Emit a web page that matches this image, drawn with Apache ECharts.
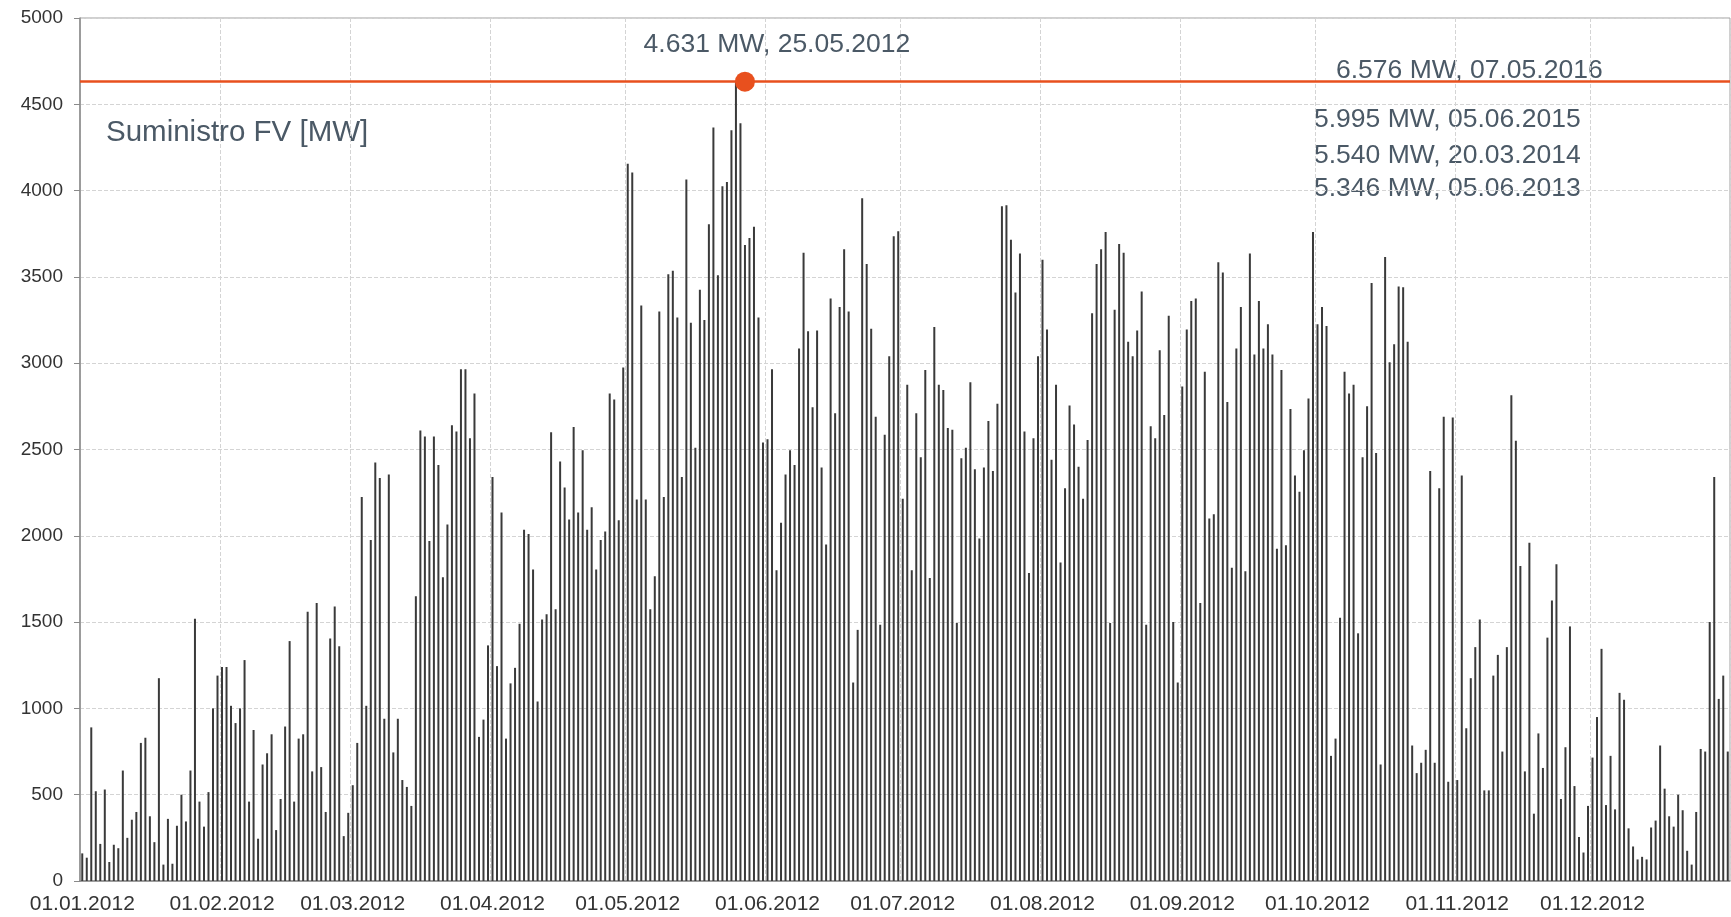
<!DOCTYPE html>
<html><head><meta charset="utf-8">
<script src="https://cdn.jsdelivr.net/npm/echarts@6/dist/echarts.min.js"></script>
<style>html,body{margin:0;padding:0;background:#fff}#c{width:1731px;height:917px}</style>
</head><body><div id="c"></div>
<script>
const monthLabels = ['01.01.2012','01.02.2012','01.03.2012','01.04.2012','01.05.2012','01.06.2012','01.07.2012','01.08.2012','01.09.2012','01.10.2012','01.11.2012','01.12.2012'];
const monthDays = [31,29,31,30,31,30,31,31,30,31,30,31];
const yTicks = [0,500,1000,1500,2000,2500,3000,3500,4000,4500,5000];

const jan = [160,135,890,520,215,530,110,210,190,640,250,355,400,800,830,375,225,1175,95,360,100,320,500,345,640,1520,460,315,515,1000,1190];
const feb = [1240,1240,1015,915,1000,1280,460,875,245,675,740,850,295,475,895,1390,460,825,850,1560,635,1610,660,400,1405,1590,1360,260,395];
const mar = [555,800,2225,1015,1975,2425,2335,940,2355,745,940,585,545,435,1650,2610,2575,1970,2575,2410,1760,2065,2640,2605,2965,2965,2565,2825,835,935,1365];
const apr = [2340,1245,2135,825,1145,1235,1490,2035,2010,1805,1040,1515,1545,2600,1575,2430,2280,2095,2630,2135,2495,2035,2165,1805,1975,2025,2825,2790,2090,2975];
const may = [4155,4105,2210,3335,2210,1575,1765,3300,2225,3515,3535,3265,2340,4065,3235,2510,3425,3250,3805,4365,3510,4025,4050,4350,4631,4390,3685,3725,3790,3265,2540];
const jun = [2560,2965,1800,2075,2355,2495,2410,3085,3640,3185,2745,3190,2395,1950,3375,2710,3325,3660,3300,1150,1455,3955,3575,3200,2690,1485,2585,3040,3735,3765];
const jul = [2215,2875,1800,2710,2455,2960,1755,3210,2875,2845,2625,2615,1495,2450,2510,2890,2385,1985,2395,2665,2375,2765,3910,3915,3715,3410,3635,2605,1785,2565,3040];
const aug = [3600,3195,2440,2875,1845,2275,2755,2645,2400,2215,2555,3290,3575,3660,3760,1495,3310,3690,3640,3125,3040,3190,3415,1485,2635,2565,3075,2700,3275,1500,1150];
const sep = [2865,3195,3360,3375,1610,2950,2100,2125,3585,3525,2775,1815,3085,3325,1795,3635,3050,3360,3085,3225,3050,1925,2960,1945,2735,2350,2255,2495,2795,3760];
const oct = [3225,3325,3215,725,825,1525,2950,2825,2875,1435,2455,2750,3465,2480,675,3615,3005,3110,3445,3440,3125,785,625,685,760,2375,685,2275,2690,575,2685];
const nov = [585,2350,885,1175,1355,1515,525,525,1190,1310,750,1355,2815,2550,1825,635,1960,390,855,655,1410,1625,1835,475,775,1475,550,255,165,435];
const dec = [715,950,1345,440,725,415,1090,1050,305,200,125,140,125,310,350,785,535,375,315,500,410,175,95,400,765,750,1500,2340,1055,1190,750];

const peakValue = 4631;
const peakDate = '25.05.2012';
const seriesName = 'Suministro FV [MW]';
const recordValues = [6576, 5995, 5540, 5346];
const recordDates = ['07.05.2016', '05.06.2015', '20.03.2014', '05.06.2013'];

const months = [jan,feb,mar,apr,may,jun,jul,aug,sep,oct,nov,dec];
const categories = [];
const values = [];
months.forEach((arr, m) => {
  const mm = String(m + 1).padStart(2, '0');
  for (let d = 1; d <= monthDays[m]; d++) {
    categories.push(String(d).padStart(2, '0') + '.' + mm + '.2012');
    values.push(arr[d - 1]);
  }
});
const fmtMW = v => (v / 1000).toFixed(3) + ' MW';
const isMonthStart = (i, v) => monthLabels.indexOf(v) >= 0;

const textColor = '#4b5966';
const orange = '#e8501e';
const chart = echarts.init(document.getElementById('c'), null, {renderer: 'canvas'});
const recordY = [73, 122, 158, 191];
const recordX = [1336, 1314, 1314, 1314];

chart.setOption({
  animation: false,
  backgroundColor: '#ffffff',
  grid: {left: 80, right: 1, top: 18, bottom: 36, show: true, borderColor: '#a0a0a0', borderWidth: 1},
  xAxis: {
    type: 'category', data: categories, boundaryGap: true,
    axisLine: {lineStyle: {color: '#8a8a8a', width: 1.5}},
    axisTick: {interval: isMonthStart, length: 6, lineStyle: {color: '#8a8a8a'}},
    axisLabel: {interval: isMonthStart, color: '#333', fontFamily: 'Liberation Sans', fontSize: 21, margin: 13},
    splitLine: {show: true, interval: isMonthStart, lineStyle: {type: 'dashed', color: '#d4d4d4', width: 1}}
  },
  yAxis: {
    type: 'value', min: 0, max: 5000, interval: 500,
    axisLine: {show: true, lineStyle: {color: '#8a8a8a', width: 1.5}},
    axisTick: {show: true, length: 6, lineStyle: {color: '#8a8a8a'}},
    axisLabel: {color: '#333', fontFamily: 'Liberation Sans', fontSize: 19, margin: 17,
      formatter: v => yTicks.indexOf(v) >= 0 ? String(v) : ''},
    splitLine: {lineStyle: {type: 'dashed', color: '#d4d4d4', width: 1}}
  },
  series: [{
    name: seriesName, type: 'bar', data: values, barWidth: 2,
    itemStyle: {color: '#3a3a3a'},
    markLine: {
      silent: true, symbol: 'none', label: {show: false},
      lineStyle: {color: orange, width: 2.5, type: 'solid'},
      data: [{yAxis: peakValue}]
    },
    markPoint: {
      silent: true,
      data: [{coord: [peakDate, peakValue], value: peakValue}],
      symbol: 'circle', symbolSize: 20, symbolOffset: [9, 0],
      itemStyle: {color: orange},
      label: {show: true, position: 'top', offset: [32, -9], color: textColor,
        fontFamily: 'Liberation Sans', fontSize: 26.5,
        formatter: () => fmtMW(peakValue) + ', ' + peakDate}
    }
  }],
  graphic: [
    {type: 'text', left: 106, top: 118, style: {text: seriesName, fill: textColor, font: '29.5px "Liberation Sans"'}}
  ].concat(recordValues.map((v, i) => ({
    type: 'text', left: recordX[i], top: recordY[i] - 16,
    style: {text: fmtMW(v) + ', ' + recordDates[i], fill: textColor, font: '26.5px "Liberation Sans"'}
  })))
});
</script>
</body></html>
